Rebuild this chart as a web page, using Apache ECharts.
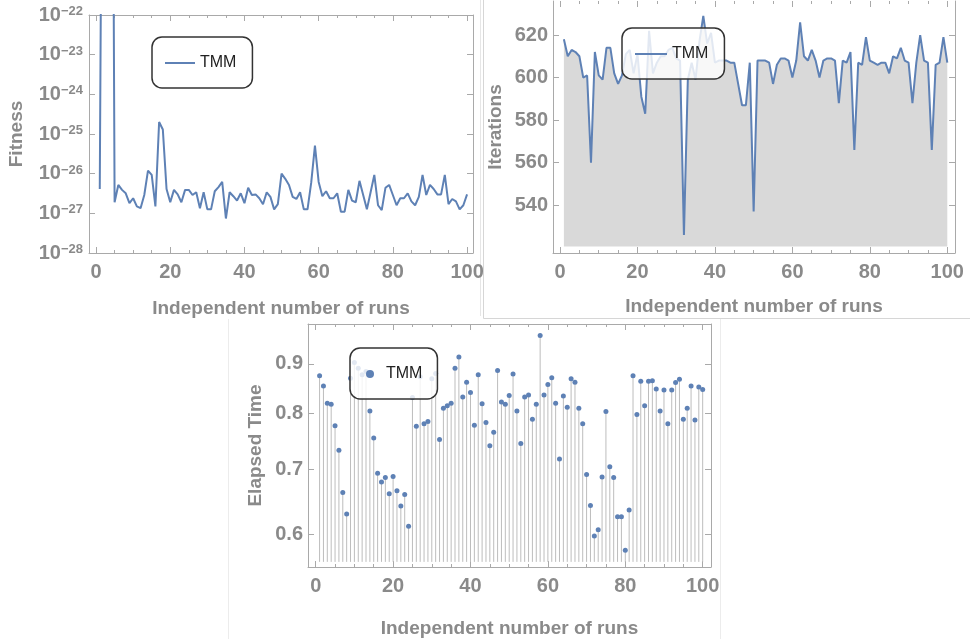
<!DOCTYPE html>
<html>
<head>
<meta charset="utf-8">
<title>TMM runs</title>
<script src="https://cdn.jsdelivr.net/npm/echarts@6/dist/echarts.min.js"></script>
<style>
  html, body { margin: 0; padding: 0; background: #fff; }
  #chart { width: 970px; height: 639px; }
</style>
</head>
<body>
<div id="chart"></div>
<script>
// run index 1..100
const runs = Array.from({ length: 100 }, (_, i) => i + 1);

// fitness in units of 1e-27 (echarts log axis cannot round numbers as small as 1e-28)
const FIT_UNIT_EXP = -27;
const fitness = [
  4.1, 1e17, 1e18, 1e21, 1.9, 5.2, 3.9, 3.2, 1.8, 2.4,
  1.5, 1.35, 2.9, 12, 9.3, 1.5, 200, 130, 4.1, 1.9,
  3.9, 3.0, 1.9, 3.9, 3.9, 2.9, 3.4, 1.35, 3.4, 1.26,
  1.26, 3.6, 4.6, 6.2, 0.74, 3.4, 2.7, 2.1, 3.2, 1.8,
  4.4, 2.9, 3.0, 2.4, 1.7, 3.4, 2.6, 1.26, 1.7, 10,
  7.4, 5.2, 2.6, 2.3, 3.4, 1.26, 1.26, 6, 51, 6.2,
  2.7, 3.6, 2.4, 2.4, 3.2, 1.1, 1.1, 3.9, 2.1, 1.9,
  6.6, 2.9, 1.26, 3.4, 9.3, 1.6, 1.2, 4.4, 5.2, 2.9,
  1.6, 2.4, 2.4, 3.2, 2.0, 1.6, 2.6, 9.3, 2.9, 5.2,
  4.1, 3.0, 3.0, 9.3, 1.7, 2.3, 2.0, 1.26, 1.6, 3.0
];

const iterations = [
  618, 610, 613, 612, 610, 600, 601, 560, 612, 601,
  599, 614, 614, 602, 597, 601, 611, 613, 602, 611,
  591, 583, 622, 602, 607, 610, 610, 613, 614, 609,
  608, 526, 599, 607, 599, 617, 629, 616, 621, 607,
  608, 608, 608, 607, 607, 597, 587, 587, 607, 537,
  608, 608, 608, 607, 597, 606, 609, 609, 608, 600,
  608, 626, 610, 608, 613, 608, 600, 608, 609, 609,
  608, 588, 608, 607, 612, 566, 607, 606, 619, 608,
  607, 606, 607, 607, 602, 610, 609, 614, 608, 607,
  588, 607, 620, 608, 607, 566, 606, 607, 619, 607
];

const elapsed = [
  0.875, 0.854, 0.820, 0.818, 0.777, 0.733, 0.663, 0.630, 0.870, 0.903,
  0.891, 0.877, 0.884, 0.805, 0.755, 0.694, 0.680, 0.687, 0.661, 0.689,
  0.666, 0.642, 0.660, 0.612, 0.831, 0.776, 0.873, 0.781, 0.785, 0.869,
  0.880, 0.752, 0.810, 0.815, 0.820, 0.891, 0.915, 0.832, 0.862, 0.841,
  0.778, 0.877, 0.819, 0.783, 0.741, 0.765, 0.886, 0.822, 0.818, 0.835,
  0.879, 0.805, 0.745, 0.832, 0.836, 0.789, 0.818, 0.963, 0.836, 0.857,
  0.871, 0.820, 0.718, 0.834, 0.812, 0.869, 0.862, 0.810, 0.781, 0.692,
  0.643, 0.598, 0.607, 0.688, 0.804, 0.705, 0.687, 0.626, 0.626, 0.578,
  0.636, 0.875, 0.798, 0.864, 0.815, 0.864, 0.865, 0.848, 0.805, 0.846,
  0.781, 0.846, 0.861, 0.868, 0.789, 0.810, 0.854, 0.788, 0.852, 0.847
];

// tick labels
const xMajorTicks = [0, 20, 40, 60, 80, 100];
const xMinorTicks = [5, 10, 15, 25, 30, 35, 45, 50, 55, 65, 70, 75, 85, 90, 95];
const iterTicks = [540, 560, 580, 600, 620];
const timeTicks = [0.6, 0.7, 0.8, 0.9];

const BLUE = '#5e81b5';
const FRAME = '#a9a9a9';
const LABEL = '#8a8a8a';
const FONT = '"Liberation Sans", Arial, Helvetica, sans-serif';
const STEM_BASE = 0.5623;   // where the stems start (bottom of the filling)
const FILL_BASE = 520.5;

const titleStyle = { color: LABEL, fontSize: 19, fontWeight: 'bold', fontFamily: FONT };
const tickLabel = { color: LABEL, fontSize: 20, fontWeight: 'bold', fontFamily: FONT };

function xFrame(gridIndex, min, max, nameGap, showTop) {
  const base = { type: 'value', gridIndex, min, max, splitLine: { show: false } };
  const line = { onZero: false, lineStyle: { color: FRAME, width: 1 } };
  const tick = (vals, len) => ({ inside: true, length: len, customValues: vals, lineStyle: { color: FRAME } });
  return [
    Object.assign({}, base, {
      position: 'bottom', axisLine: line, axisTick: tick(xMajorTicks, 6),
      axisLabel: Object.assign({ customValues: xMajorTicks, margin: 9 }, tickLabel),
      name: 'Independent number of runs', nameLocation: 'middle', nameGap, nameTextStyle: titleStyle
    }),
    Object.assign({}, base, { position: 'bottom', axisLine: { show: false }, axisTick: tick(xMinorTicks, 3), axisLabel: { show: false } }),
    Object.assign({}, base, { position: 'top', axisLine: showTop ? line : { show: false }, axisTick: tick(xMajorTicks, 6), axisLabel: { show: false } }),
    Object.assign({}, base, { position: 'top', axisLine: { show: false }, axisTick: tick(xMinorTicks, 3), axisLabel: { show: false } })
  ];
}

const xAxis = [].concat(
  xFrame(0, -1.9, 101.6, 46, true),
  xFrame(1, -1.81, 101.99, 44, false),
  xFrame(2, -1.99, 102.15, 52, true)
);

const yLine = { onZero: false, lineStyle: { color: FRAME, width: 1 } };
const yAxis = [
  // fitness (1e-28 .. 1e-22)
  {
    type: 'log', logBase: 10, gridIndex: 0, min: 0.1, max: 1e5, position: 'left',
    axisLine: yLine, splitLine: { show: false },
    axisTick: { inside: true, length: 6, lineStyle: { color: FRAME } },
    axisLabel: {
      margin: 6,
      formatter: v => '{b|10}{s|\u2212' + Math.abs(Math.round(Math.log10(v)) + FIT_UNIT_EXP) + '}',
      rich: {
        b: { color: LABEL, fontSize: 20, fontWeight: 'bold', fontFamily: FONT },
        s: { color: LABEL, fontSize: 13, fontWeight: 'bold', fontFamily: FONT, verticalAlign: 'top', padding: [0, 0, 6, 0] }
      }
    },
    name: 'Fitness', nameLocation: 'middle', nameGap: 63, nameTextStyle: titleStyle
  },
  {
    type: 'log', logBase: 10, gridIndex: 0, min: 0.1, max: 1e5, position: 'right',
    axisLine: yLine, splitLine: { show: false },
    axisTick: { inside: true, length: 6, lineStyle: { color: FRAME } }, axisLabel: { show: false }
  },
  // iterations
  {
    type: 'value', gridIndex: 1, min: 517.5, max: 636, position: 'left',
    axisLine: yLine, splitLine: { show: false },
    axisTick: { inside: true, length: 6, customValues: iterTicks, lineStyle: { color: FRAME } },
    axisLabel: Object.assign({ customValues: iterTicks, margin: 5 }, tickLabel),
    name: 'Iterations', nameLocation: 'middle', nameGap: 48, nameTextStyle: titleStyle
  },
  {
    type: 'value', gridIndex: 1, min: 517.5, max: 636, position: 'right',
    axisLine: yLine, splitLine: { show: false },
    axisTick: { inside: true, length: 6, customValues: iterTicks, lineStyle: { color: FRAME } }, axisLabel: { show: false }
  },
  // elapsed time
  {
    type: 'log', logBase: 10, gridIndex: 2, min: 0.5555, max: 0.9897, position: 'left',
    axisLine: yLine, splitLine: { show: false },
    axisTick: { inside: true, length: 6, customValues: timeTicks, lineStyle: { color: FRAME } },
    axisLabel: Object.assign({ customValues: timeTicks, margin: 5, formatter: v => v.toFixed(1) }, tickLabel),
    name: 'Elapsed Time', nameLocation: 'middle', nameGap: 43, nameTextStyle: titleStyle
  },
  {
    type: 'log', logBase: 10, gridIndex: 2, min: 0.5555, max: 0.9897, position: 'right',
    axisLine: yLine, splitLine: { show: false },
    axisTick: { inside: true, length: 6, customValues: timeTicks, lineStyle: { color: FRAME } }, axisLabel: { show: false }
  }
];

const legendBase = {
  orient: 'horizontal', selectedMode: false,
  backgroundColor: 'rgba(255,255,255,0.82)', borderColor: '#333', borderWidth: 1.5, borderRadius: 10,
  textStyle: { color: '#222', fontSize: 16, fontFamily: FONT }
};

const chart = echarts.init(document.getElementById('chart'));
chart.setOption({
  animation: false,
  backgroundColor: '#fff',
  grid: [
    { left: 89, top: 15, width: 384, height: 238 },
    { left: 553, top: 1, width: 402, height: 252 },
    { left: 308, top: 324, width: 403, height: 249 }
  ],
  xAxis,
  yAxis,
  legend: [
    Object.assign({}, legendBase, {
      left: 152, top: 37, padding: [18, 16, 17, 13], itemWidth: 30, itemHeight: 2,
      data: [{ name: 'TMM', icon: 'rect', itemStyle: { color: BLUE } }]
    }),
    Object.assign({}, legendBase, {
      left: 622, top: 28, padding: [18, 16, 17, 13], itemWidth: 32, itemHeight: 2,
      data: [{ name: 'TMM', icon: 'rect', itemStyle: { color: BLUE } }]
    }),
    Object.assign({}, legendBase, {
      left: 350, top: 348, padding: [18, 15, 17, 16], itemWidth: 22, itemHeight: 8,
      data: [{ name: 'TMM', icon: 'circle', itemStyle: { color: BLUE } }]
    })
  ],
  graphic: [
    { type: 'line', silent: true, shape: { x1: 480.5, y1: 0, x2: 480.5, y2: 316 }, style: { stroke: '#e6e6e6', lineWidth: 1 } },
    { type: 'line', silent: true, shape: { x1: 483.5, y1: 0, x2: 483.5, y2: 318.5 }, style: { stroke: '#d6d6d6', lineWidth: 1 } },
    { type: 'line', silent: true, shape: { x1: 483.5, y1: 318.5, x2: 970, y2: 318.5 }, style: { stroke: '#d6d6d6', lineWidth: 1 } },
    { type: 'line', silent: true, shape: { x1: 228.5, y1: 319, x2: 228.5, y2: 639 }, style: { stroke: '#ececec', lineWidth: 1 } },
    { type: 'line', silent: true, shape: { x1: 720.5, y1: 319, x2: 720.5, y2: 639 }, style: { stroke: '#ececec', lineWidth: 1 } }
  ],
  series: [
    {
      name: 'TMM', type: 'line', xAxisIndex: 0, yAxisIndex: 0,
      data: runs.map((r, i) => [r, fitness[i]]),
      symbol: 'none', clip: true,
      lineStyle: { color: BLUE, width: 2 }, itemStyle: { color: BLUE }
    },
    {
      name: 'TMM', type: 'line', xAxisIndex: 4, yAxisIndex: 2,
      data: runs.map((r, i) => [r, iterations[i]]),
      symbol: 'none', clip: true,
      lineStyle: { color: BLUE, width: 2 }, itemStyle: { color: BLUE },
      areaStyle: { color: '#d9d9d9', opacity: 1, origin: FILL_BASE }
    },
    {
      name: 'stems', type: 'custom', xAxisIndex: 8, yAxisIndex: 4, clip: true,
      data: runs.map((r, i) => [r, elapsed[i]]),
      renderItem: (params, api) => {
        const top = api.coord([api.value(0), api.value(1)]);
        const bot = api.coord([api.value(0), STEM_BASE]);
        return {
          type: 'line',
          shape: { x1: top[0], y1: top[1], x2: bot[0], y2: bot[1] },
          style: { stroke: '#bdbdbd', lineWidth: 1 }
        };
      }
    },
    {
      name: 'TMM', type: 'scatter', xAxisIndex: 8, yAxisIndex: 4,
      data: runs.map((r, i) => [r, elapsed[i]]),
      symbolSize: 5, itemStyle: { color: BLUE, opacity: 1 }
    }
  ]
});
</script>
</body>
</html>
